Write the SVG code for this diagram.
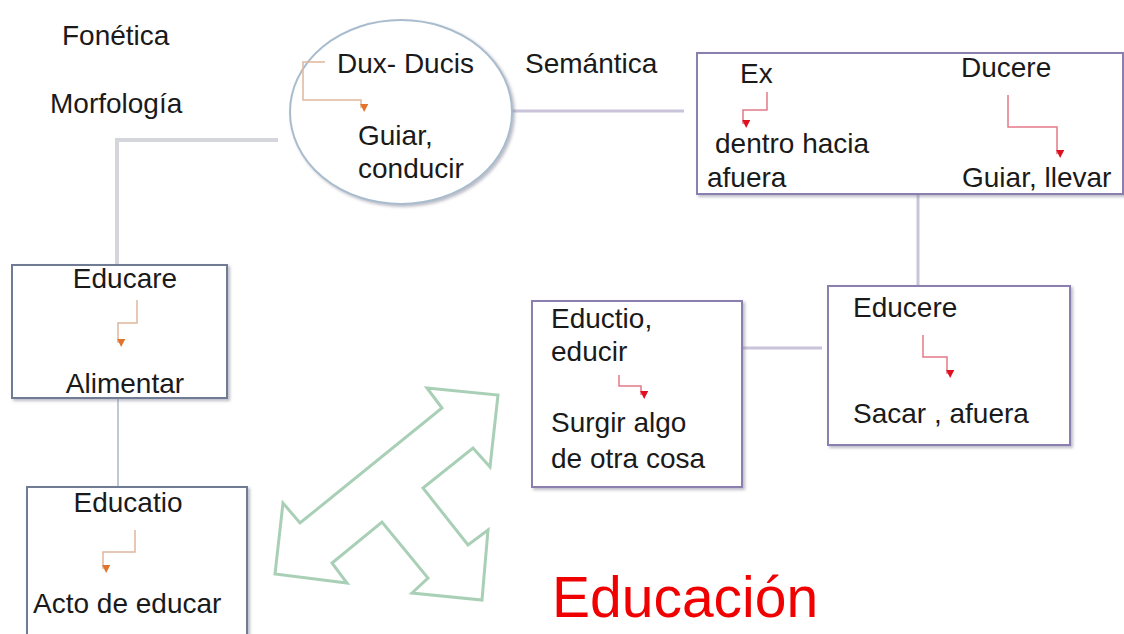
<svg xmlns="http://www.w3.org/2000/svg" width="1124" height="634" viewBox="0 0 1124 634">
<defs>
<style>
text{font-family:"Liberation Sans",Arial,sans-serif;font-size:28px;fill:#1a1a1a}
.box{fill:#fff;stroke:#8a7fae;stroke-width:2}
.boxg{fill:#fff;stroke:#6f7b94;stroke-width:2}
.conn{fill:none;stroke:#c9c4d9;stroke-width:3}
.conng{fill:none;stroke:#d4d6dc;stroke-width:4}
.ao{fill:none;stroke:#e0b79c;stroke-width:1.5}
.ar{fill:none;stroke:#e47a86;stroke-width:1.5}
</style>
<marker id="mo" viewBox="0 0 10 10" refX="5" refY="9" markerWidth="8" markerHeight="8" orient="auto-start-reverse" markerUnits="userSpaceOnUse"><path d="M0,0 L10,0 L5,10 z" fill="#e0742a" transform="rotate(-90 5 5)"/></marker>
<marker id="mr" viewBox="0 0 10 10" refX="5" refY="9" markerWidth="8" markerHeight="8" orient="auto-start-reverse" markerUnits="userSpaceOnUse"><path d="M0,0 L10,0 L5,10 z" fill="#e01020" transform="rotate(-90 5 5)"/></marker>
<filter id="sh" x="-10%" y="-10%" width="120%" height="120%"><feDropShadow dx="2" dy="2" stdDeviation="1.5" flood-color="#7a7a90" flood-opacity="0.5"/></filter>
</defs>

<g id="connectors">
<path class="conng" d="M278,140 L117,140 L117,265"/>
<path class="conn" d="M512,111 L684,111"/>
<path class="conn" d="M918,194 L918,286"/>
<path class="conn" d="M742,348 L822,348"/>
<path class="conng" d="M118,398 L118,487" style="stroke:#c0c8d8;stroke-width:2"/>
</g>

<g id="labels">
<text x="62" y="45">Fonética</text>
<text x="50" y="113">Morfología</text>
<text x="525" y="73">Semántica</text>
</g>

<g id="node-dux">
<ellipse cx="401" cy="112" rx="111" ry="92" fill="#fff" stroke="#a9bccd" stroke-width="2" filter="url(#sh)"/>
<text x="337" y="73">Dux- Ducis</text>
<path class="ao" d="M325,62 L303,62 L303,100 L361,100 L361,108" marker-end="url(#mo)"/>
<text x="358" y="145">Guiar,</text>
<text x="358" y="178">conducir</text>
</g>

<g id="node-ex-ducere">
<rect class="box" x="697" y="53" width="426" height="141" filter="url(#sh)"/>
<text x="740" y="83">Ex</text>
<path class="ar" d="M767,92 L767,110 L743,110 L743,124" marker-end="url(#mr)"/>
<text x="715" y="153">dentro hacia</text>
<text x="707" y="187">afuera</text>
<text x="961" y="77">Ducere</text>
<path class="ar" d="M1008,95 L1008,127 L1057,127 L1057,154" marker-end="url(#mr)"/>
<text x="962" y="187">Guiar, llevar</text>
</g>

<g id="node-educere">
<rect class="box" x="828" y="286" width="242" height="159" filter="url(#sh)"/>
<text x="853" y="317">Educere</text>
<path class="ar" d="M923,335 L923,357 L947,357 L947,374" marker-end="url(#mr)"/>
<text x="853" y="423">Sacar , afuera</text>
</g>

<g id="node-eductio">
<rect class="box" x="532" y="301" width="210" height="186" filter="url(#sh)"/>
<text x="551" y="328">Eductio,</text>
<text x="551" y="361">educir</text>
<path class="ar" d="M619,375 L619,386 L641,386 L641,395" marker-end="url(#mr)"/>
<text x="551" y="432">Surgir algo</text>
<text x="551" y="468">de otra cosa</text>
</g>

<g id="node-educare">
<rect class="boxg" x="12" y="265" width="215" height="133" filter="url(#sh)"/>
<text x="125" y="288" text-anchor="middle">Educare</text>
<path class="ao" d="M137,300 L137,323 L118,323 L118,343" marker-end="url(#mo)"/>
<text x="125" y="393" text-anchor="middle">Alimentar</text>
</g>

<g id="node-educatio">
<rect class="boxg" x="27" y="487" width="220" height="160" filter="url(#sh)"/>
<text x="128" y="512" text-anchor="middle">Educatio</text>
<path class="ao" d="M135,530 L135,552 L103,552 L103,569" marker-end="url(#mo)"/>
<text x="33" y="613">Acto de educar</text>
</g>

<g id="cross-arrow">
<polygon points="427,388 498,395 490,467 473,448 423,488 468,545 488,530 482,600 412,593 428,578 382,522 332,563 347,583 275,574 283,503 300,523 442,408" fill="#fff" stroke="#a9d0b6" stroke-width="3" stroke-linejoin="miter"/>
</g>

<text id="title" x="552" y="617" style="font-size:57px;fill:#f00000">Educación</text>
</svg>
